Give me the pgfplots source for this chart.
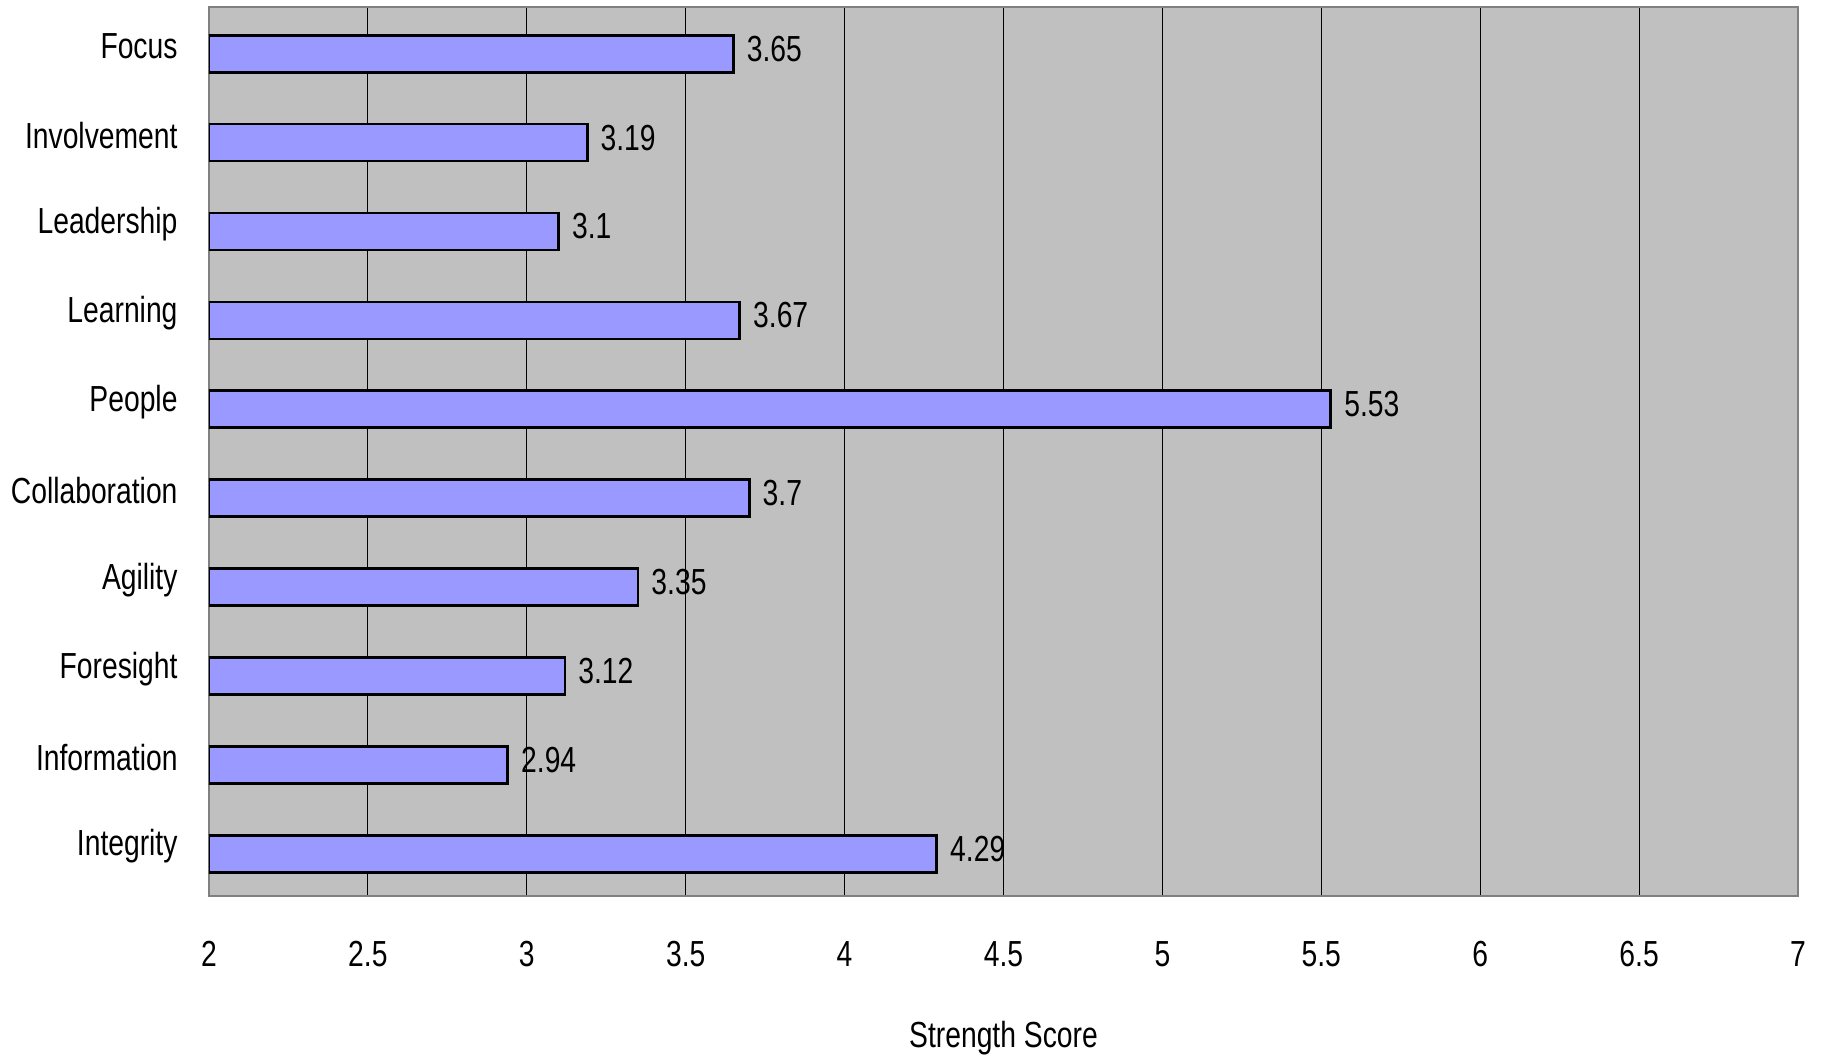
\documentclass[border=0pt]{standalone}
\usepackage{pgfplots}
\pgfplotsset{compat=1.18}
\usepackage{fontspec}
\setmainfont[FakeStretch=0.78]{Liberation Sans}
\definecolor{barfill}{HTML}{9999FF}
\definecolor{bggray}{HTML}{C0C0C0}
\definecolor{framegray}{HTML}{808080}
\begin{document}
\begin{tikzpicture}
\path (-83.6pt,-64.4pt) rectangle (648pt,358.4pt);
\begin{axis}[
 at={(0pt,0pt)}, anchor=south west,
 scale only axis, width=635.6pt, height=355.6pt,
 xmin=2, xmax=7, ymin=-0.5, ymax=9.5,
 xtick={2,2.5,3,3.5,4,4.5,5,5.5,6,6.5,7},
 ytick={0,1,2,3,4,5,6,7,8,9},
 yticklabels={Integrity,Information,Foresight,Agility,Collaboration,People,Learning,Leadership,Involvement,Focus},
 major tick length=0pt,
 xmajorgrids, ymajorgrids=false,
 major grid style={black, line width=0.45pt},
 axis background/.style={fill=bggray},
 axis line style={framegray, line width=1pt},
 /pgf/number format/assume math mode=true,
 tick label style={font=\fontsize{14.5}{17}\selectfont},
 label style={font=\fontsize{14.5}{17}\selectfont},
 xticklabel style={anchor=center, inner sep=0pt, yshift=-23.2pt},
 yticklabel style={anchor=east, inner sep=0pt, xshift=-12.4pt, yshift=2pt},
 xlabel={Strength Score},
 xlabel style={at={(axis description cs:0.5,0)}, anchor=center, inner sep=0pt, yshift=-56.7pt},
 xbar, bar width=14.8pt, bar shift=-0.9pt,
 nodes near coords,
 every node near coord/.append style={anchor=west, font=\fontsize{14.5}{17}\selectfont, xshift=1.5pt, yshift=2pt},
]
\addplot[draw=black, line width=1.1pt, fill=barfill] coordinates {
 (4.29,0) (2.94,1) (3.12,2) (3.35,3) (3.7,4) (5.53,5) (3.67,6) (3.1,7) (3.19,8) (3.65,9)
};
\end{axis}
\end{tikzpicture}
\end{document}
